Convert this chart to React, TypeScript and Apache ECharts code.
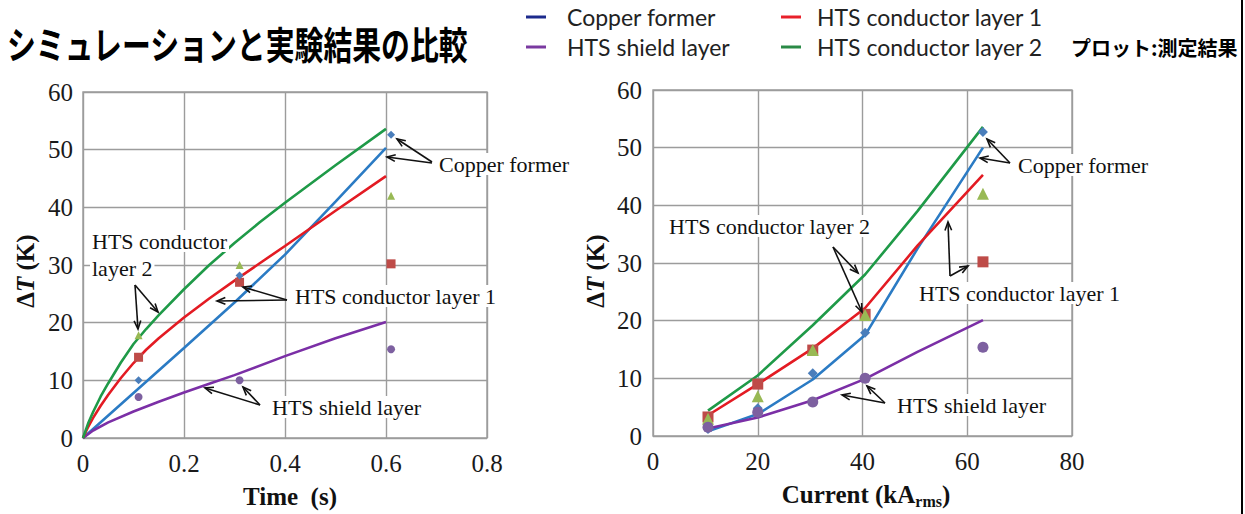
import React, { useEffect, useRef } from 'react';
import * as echarts from 'echarts';

// ---------- data: left plot (time) ----------
const timeCopperSim = [[0, 0], [0.1, 7.8], [0.2, 15.6], [0.3, 23.5], [0.4, 31.8], [0.5, 41.0], [0.6, 50.3]];
const timeCond1Sim = [[0, 0], [0.01, 1.9], [0.02, 3.5], [0.035, 5.6], [0.05, 7.5], [0.075, 10.4], [0.1, 13.0], [0.125, 15.3], [0.15, 17.3], [0.2, 20.9], [0.25, 24.2], [0.3, 27.3], [0.35, 30.3], [0.4, 33.3], [0.5, 39.4], [0.6, 45.4]];
const timeCond2Sim = [[0, 0], [0.01, 2.5], [0.02, 4.5], [0.035, 7.2], [0.05, 9.5], [0.075, 13.1], [0.1, 16.3], [0.125, 18.9], [0.15, 21.3], [0.2, 25.8], [0.25, 30.0], [0.3, 33.8], [0.35, 37.4], [0.4, 40.8], [0.5, 47.3], [0.6, 53.6]];
const timeShieldSim = [[0, 0], [0.02, 1.3], [0.05, 2.7], [0.1, 4.6], [0.15, 6.3], [0.2, 7.9], [0.25, 9.4], [0.3, 10.9], [0.4, 14.2], [0.5, 17.3], [0.6, 20.1]];

const timeMeas = [0.11, 0.31, 0.61];
const copperMeasT = [10.0, 28.2, 52.6];
const cond1MeasT = [14.0, 27.0, 30.2];
const cond2MeasT = [17.8, 30.0, 42.0];
const shieldMeasT = [7.1, 10.0, 15.4];

// ---------- data: right plot (current) ----------
const currentSim = [10.5, 20, 30.5, 40.5, 50.5, 63];
const copperSimI = [0.8, 3.8, 9.8, 17.5, 32.5, 50.0];
const cond1SimI = [3.6, 9.0, 15.2, 22.2, 33.0, 45.3];
const cond2SimI = [4.4, 10.5, 19.2, 28.0, 39.0, 53.6];
const shieldSimI = [1.3, 3.2, 6.2, 9.9, 14.6, 20.1];

const currentMeas = [10.5, 20, 30.5, 40.5, 63];
const copperMeasI = [1.2, 4.8, 10.9, 17.9, 52.7];
const cond1MeasI = [3.3, 9.0, 14.9, 21.1, 30.2];
const cond2MeasI = [3.0, 6.9, 14.9, 21.0, 42.0];
const shieldMeasI = [1.5, 4.1, 5.9, 10.0, 15.4];

const seriesNames = ['Copper former', 'HTS shield layer', 'HTS conductor layer 1', 'HTS conductor layer 2'];
const legendColors = ['#1c2a8c', '#7a3aa0', '#e8202a', '#2a8a46'];

const SERIF = 'Liberation Serif, Times New Roman, serif';
const CJK = 'Noto Sans CJK JP, sans-serif';
const GRID_COLOR = '#9c9c9c';
const LINE = { copper: '#2b7bc4', cond1: '#e31b23', cond2: '#1f9a48', shield: '#7b2fa6' };
const MARK = { copper: '#4a7ebb', cond1: '#be4b48', cond2: '#98b954', shield: '#7d60a0' };

function zip(xs: number[], ys: number[]) {
  return xs.map((x, i) => [x, ys[i]]);
}

function arrow(x1: number, y1: number, x2: number, y2: number) {
  const ang = Math.atan2(y2 - y1, x2 - x1);
  const L = 9;
  const a = 0.38;
  const p1 = [x2 - L * Math.cos(ang - a), y2 - L * Math.sin(ang - a)];
  const p2 = [x2 - L * Math.cos(ang + a), y2 - L * Math.sin(ang + a)];
  return [
    { type: 'line', z: 101, shape: { x1, y1, x2, y2 }, style: { stroke: '#111', lineWidth: 1.6 } },
    { type: 'polyline', z: 101, shape: { points: [p1, [x2, y2], p2] }, style: { stroke: '#111', lineWidth: 1.6, fill: null } },
  ];
}

function note(text: string, x: number, y: number) {
  return {
    type: 'text', z: 100, x, y,
    style: {
      text, fontFamily: SERIF, fontSize: 22, fill: '#111',
      align: 'left', verticalAlign: 'middle',
      backgroundColor: '#fff', padding: [0, 2, 0, 2],
    },
  };
}

const arrowList = [
  [432, 162, 397, 139], [432, 163, 387, 157],
  [287, 300, 217, 301], [287, 300, 243, 287],
  [135, 285, 138, 329], [135, 285, 158, 312],
  [260, 405, 205, 388], [260, 405, 243, 387],
  [1010, 163, 987, 139], [1010, 163, 980, 158],
  [833, 247, 858, 273], [833, 247, 862, 312],
  [950, 276, 948, 222], [950, 276, 968, 266],
  [885, 403, 842, 395], [885, 403, 867, 386],
];

const tickLabel = { fontFamily: SERIF, fontSize: 25, color: '#1a1a1a', fontWeight: 'normal' };

function valueAxis(gridIndex: number, min: number, max: number, interval: number, margin: number, fmt?: (v: number) => string) {
  return {
    type: 'value', gridIndex, min, max, interval,
    axisLine: { show: false },
    axisTick: { show: false },
    splitLine: { show: true, lineStyle: { color: GRID_COLOR, width: 1.4 } },
    axisLabel: fmt ? { ...tickLabel, margin, formatter: fmt } : { ...tickLabel, margin },
  };
}

function lineSeries(name: string, data: number[][], color: string, idx: number) {
  return {
    type: 'line', name, data, xAxisIndex: idx, yAxisIndex: idx,
    showSymbol: false, symbol: 'none', smooth: false,
    lineStyle: { color, width: 2.6 }, itemStyle: { color }, z: 2,
  };
}

function scatterSeries(name: string, data: number[][], color: string, idx: number, symbol: string, size: number) {
  return {
    type: 'scatter', name, data, xAxisIndex: idx, yAxisIndex: idx,
    symbol, symbolSize: size, itemStyle: { color, opacity: 1 }, z: 3,
  };
}

export default function App() {
  const ref = useRef<HTMLDivElement>(null);
  useEffect(() => {
    const chart = echarts.init(ref.current!, undefined, { renderer: 'svg' });
    const graphics: any[] = [
      {
        type: 'text', x: 7, y: 43, scaleX: 0.76, z: 100,
        style: { text: 'シミュレーションと実験結果の比較', fontFamily: CJK, fontWeight: 'bold', fontSize: 38, fill: '#000', align: 'left', verticalAlign: 'middle' },
      },
      {
        type: 'text', x: 1071, y: 47, z: 100,
        style: { text: 'プロット:測定結果', fontFamily: CJK, fontWeight: 'bold', fontSize: 20, fill: '#000', align: 'left', verticalAlign: 'middle' },
      },
      { type: 'line', shape: { x1: 1242, y1: 0, x2: 1242, y2: 514 }, style: { stroke: '#000', lineWidth: 2 }, z: 100 },
      {
        type: 'text', x: 290, y: 496, z: 100,
        style: { text: 'Time  (s)', fontFamily: SERIF, fontWeight: 'bold', fontSize: 25, fill: '#111', align: 'center', verticalAlign: 'middle' },
      },
      {
        type: 'text', x: 866, y: 494, z: 100,
        style: {
          text: '{b|Current (kA}{s|rms}{b|)}', align: 'center', verticalAlign: 'middle',
          rich: {
            b: { fontFamily: SERIF, fontWeight: 'bold', fontSize: 25, fill: '#111', lineHeight: 30 },
            s: { fontFamily: SERIF, fontWeight: 'bold', fontSize: 16, fill: '#111', lineHeight: 30, verticalAlign: 'bottom' },
          },
        },
      },
      ...[25, 595].map((x) => ({
        type: 'text', x, y: 271, rotation: Math.PI / 2, z: 100,
        style: {
          text: '{a|Δ}{i|T}{a| (K)}', align: 'center', verticalAlign: 'middle',
          rich: {
            a: { fontFamily: SERIF, fontWeight: 'bold', fontSize: 25, fill: '#111' },
            i: { fontFamily: SERIF, fontWeight: 'bold', fontStyle: 'italic', fontSize: 25, fill: '#111' },
          },
        },
      })),
      note('Copper former', 437, 164),
      note('HTS conductor layer 1', 293, 296),
      note('HTS conductor', 90, 241),
      note('layer 2', 90, 268),
      note('HTS shield layer', 270, 407),
      note('Copper former', 1016, 165),
      note('HTS conductor layer 2', 667, 226),
      note('HTS conductor layer 1', 917, 293),
      note('HTS shield layer', 895, 405),
      ...arrowList.flatMap((a) => arrow(a[0], a[1], a[2], a[3])),
    ];

    const legendBase = {
      orient: 'vertical', icon: 'rect', itemWidth: 20, itemHeight: 3, itemGap: 4,
      padding: 0, selectedMode: false, top: 4,
    };

    const option: any = {
      animation: false,
      backgroundColor: '#fff',
      textStyle: { fontFamily: SERIF },
      legend: [
        {
          ...legendBase, left: 526,
          textStyle: { fontFamily: 'Lato, Open Sans, sans-serif', fontSize: 23, color: '#222', lineHeight: 26, padding: [0, 0, 0, 16] },
          data: [0, 1].map((i) => ({ name: seriesNames[i], itemStyle: { color: legendColors[i] }, lineStyle: { color: legendColors[i] } })),
        },
        {
          ...legendBase, left: 781,
          textStyle: { fontFamily: 'Lato, Open Sans, sans-serif', fontSize: 23, color: '#222', lineHeight: 26, padding: [0, 0, 0, 11] },
          data: [2, 3].map((i) => ({ name: seriesNames[i], itemStyle: { color: legendColors[i] }, lineStyle: { color: legendColors[i] } })),
        },
      ],
      grid: [
        { left: 83, top: 92, width: 404, height: 346, show: true, borderColor: GRID_COLOR, borderWidth: 1.4, backgroundColor: 'transparent' },
        { left: 653, top: 90, width: 419, height: 346, show: true, borderColor: GRID_COLOR, borderWidth: 1.4, backgroundColor: 'transparent' },
      ],
      xAxis: [
        valueAxis(0, 0, 0.8, 0.2, 13, (v: number) => (v === 0 ? '0' : String(+v.toFixed(1)))),
        valueAxis(1, 0, 80, 20, 13),
      ],
      yAxis: [
        valueAxis(0, 0, 60, 10, 10),
        valueAxis(1, 0, 60, 10, 11),
      ],
      graphic: graphics,
      series: [
        lineSeries(seriesNames[0], timeCopperSim, LINE.copper, 0),
        lineSeries(seriesNames[1], timeShieldSim, LINE.shield, 0),
        lineSeries(seriesNames[2], timeCond1Sim, LINE.cond1, 0),
        lineSeries(seriesNames[3], timeCond2Sim, LINE.cond2, 0),
        scatterSeries('Measured: HTS conductor layer 1 (t)', zip(timeMeas, cond1MeasT), MARK.cond1, 0, 'rect', 9),
        scatterSeries('Measured: HTS conductor layer 2 (t)', zip(timeMeas, cond2MeasT), MARK.cond2, 0, 'triangle', 8),
        scatterSeries('Measured: Copper former (t)', zip(timeMeas, copperMeasT), MARK.copper, 0, 'diamond', 8),
        scatterSeries('Measured: HTS shield layer (t)', zip(timeMeas, shieldMeasT), MARK.shield, 0, 'circle', 8),

        lineSeries(seriesNames[0], zip(currentSim, copperSimI), LINE.copper, 1),
        lineSeries(seriesNames[1], zip(currentSim, shieldSimI), LINE.shield, 1),
        lineSeries(seriesNames[2], zip(currentSim, cond1SimI), LINE.cond1, 1),
        lineSeries(seriesNames[3], zip(currentSim, cond2SimI), LINE.cond2, 1),
        scatterSeries('Measured: HTS conductor layer 1 (I)', zip(currentMeas, cond1MeasI), MARK.cond1, 1, 'rect', 11),
        scatterSeries('Measured: HTS conductor layer 2 (I)', zip(currentMeas, cond2MeasI), MARK.cond2, 1, 'triangle', 12),
        scatterSeries('Measured: Copper former (I)', zip(currentMeas, copperMeasI), MARK.copper, 1, 'diamond', 10),
        scatterSeries('Measured: HTS shield layer (I)', zip(currentMeas, shieldMeasI), MARK.shield, 1, 'circle', 11),
      ],
    };
    chart.setOption(option);
    return () => chart.dispose();
  }, []);
  return <div ref={ref} style={{ position: 'absolute', left: 0, top: 0, width: 1245, height: 514, background: '#fff' }} />;
}
